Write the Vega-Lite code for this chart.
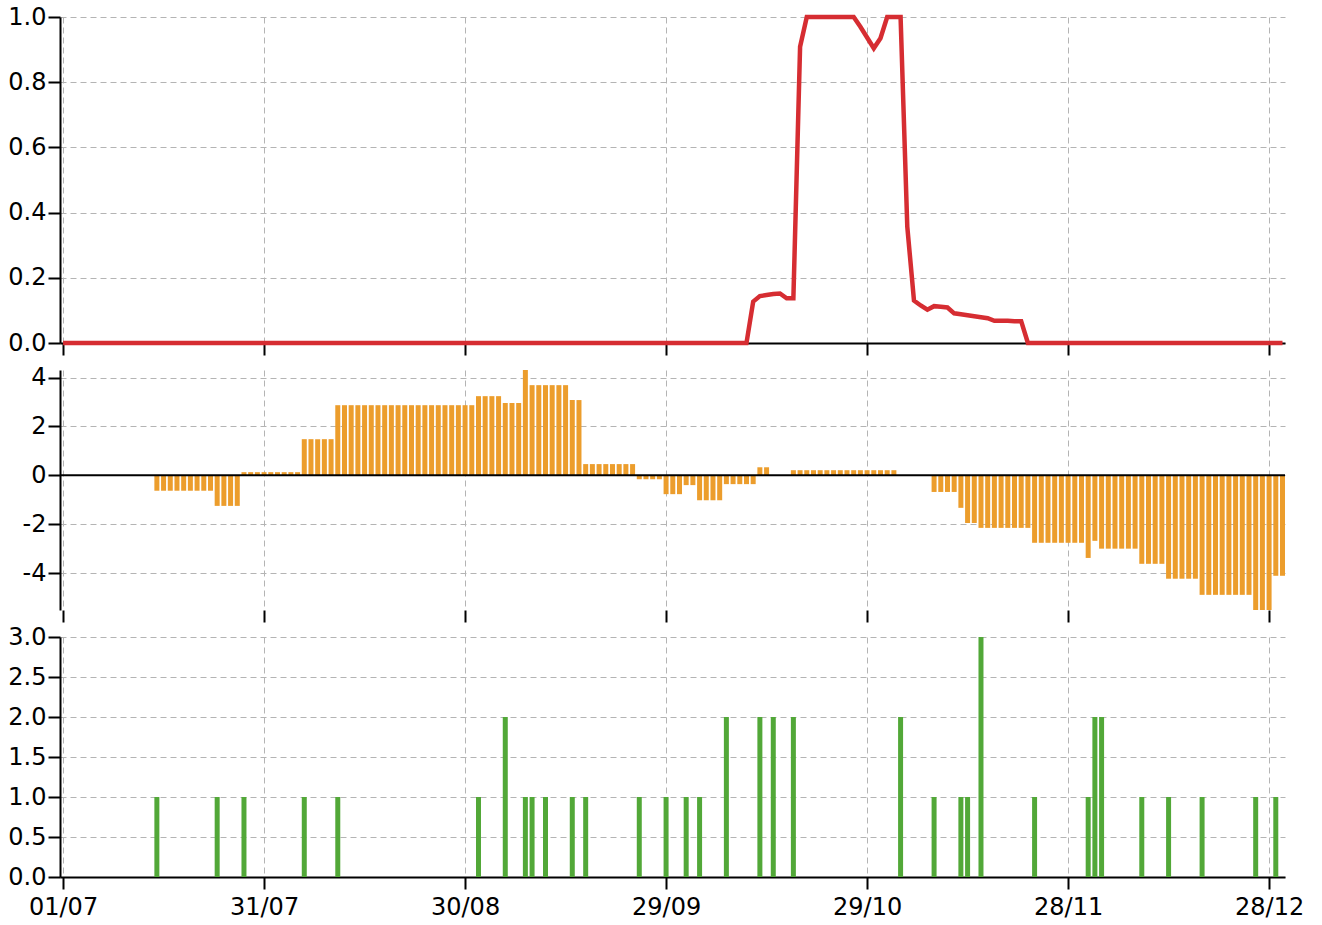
{
  "$schema": "https://vega.github.io/schema/vega-lite/v6.json",
  "padding": {"left": 7, "top": 5, "right": 5, "bottom": 5},
  "bounds": "flush",
  "spacing": 27,
  "datasets": {
    "risk": [
      {"d":"2023-07-01","v":0},{"d":"2023-07-02","v":0},{"d":"2023-07-03","v":0},{"d":"2023-07-04","v":0},{"d":"2023-07-05","v":0},{"d":"2023-07-06","v":0},{"d":"2023-07-07","v":0},{"d":"2023-07-08","v":0},{"d":"2023-07-09","v":0},{"d":"2023-07-10","v":0},
      {"d":"2023-07-11","v":0},{"d":"2023-07-12","v":0},{"d":"2023-07-13","v":0},{"d":"2023-07-14","v":0},{"d":"2023-07-15","v":0},{"d":"2023-07-16","v":0},{"d":"2023-07-17","v":0},{"d":"2023-07-18","v":0},{"d":"2023-07-19","v":0},{"d":"2023-07-20","v":0},
      {"d":"2023-07-21","v":0},{"d":"2023-07-22","v":0},{"d":"2023-07-23","v":0},{"d":"2023-07-24","v":0},{"d":"2023-07-25","v":0},{"d":"2023-07-26","v":0},{"d":"2023-07-27","v":0},{"d":"2023-07-28","v":0},{"d":"2023-07-29","v":0},{"d":"2023-07-30","v":0},{"d":"2023-07-31","v":0},
      {"d":"2023-08-01","v":0},{"d":"2023-08-02","v":0},{"d":"2023-08-03","v":0},{"d":"2023-08-04","v":0},{"d":"2023-08-05","v":0},{"d":"2023-08-06","v":0},{"d":"2023-08-07","v":0},{"d":"2023-08-08","v":0},{"d":"2023-08-09","v":0},{"d":"2023-08-10","v":0},
      {"d":"2023-08-11","v":0},{"d":"2023-08-12","v":0},{"d":"2023-08-13","v":0},{"d":"2023-08-14","v":0},{"d":"2023-08-15","v":0},{"d":"2023-08-16","v":0},{"d":"2023-08-17","v":0},{"d":"2023-08-18","v":0},{"d":"2023-08-19","v":0},{"d":"2023-08-20","v":0},
      {"d":"2023-08-21","v":0},{"d":"2023-08-22","v":0},{"d":"2023-08-23","v":0},{"d":"2023-08-24","v":0},{"d":"2023-08-25","v":0},{"d":"2023-08-26","v":0},{"d":"2023-08-27","v":0},{"d":"2023-08-28","v":0},{"d":"2023-08-29","v":0},{"d":"2023-08-30","v":0},{"d":"2023-08-31","v":0},
      {"d":"2023-09-01","v":0},{"d":"2023-09-02","v":0},{"d":"2023-09-03","v":0},{"d":"2023-09-04","v":0},{"d":"2023-09-05","v":0},{"d":"2023-09-06","v":0},{"d":"2023-09-07","v":0},{"d":"2023-09-08","v":0},{"d":"2023-09-09","v":0},{"d":"2023-09-10","v":0},
      {"d":"2023-09-11","v":0},{"d":"2023-09-12","v":0},{"d":"2023-09-13","v":0},{"d":"2023-09-14","v":0},{"d":"2023-09-15","v":0},{"d":"2023-09-16","v":0},{"d":"2023-09-17","v":0},{"d":"2023-09-18","v":0},{"d":"2023-09-19","v":0},{"d":"2023-09-20","v":0},
      {"d":"2023-09-21","v":0},{"d":"2023-09-22","v":0},{"d":"2023-09-23","v":0},{"d":"2023-09-24","v":0},{"d":"2023-09-25","v":0},{"d":"2023-09-26","v":0},{"d":"2023-09-27","v":0},{"d":"2023-09-28","v":0},{"d":"2023-09-29","v":0},{"d":"2023-09-30","v":0},
      {"d":"2023-10-01","v":0},{"d":"2023-10-02","v":0},{"d":"2023-10-03","v":0},{"d":"2023-10-04","v":0},{"d":"2023-10-05","v":0},{"d":"2023-10-06","v":0},{"d":"2023-10-07","v":0},{"d":"2023-10-08","v":0},{"d":"2023-10-09","v":0},{"d":"2023-10-10","v":0},
      {"d":"2023-10-11","v":0},{"d":"2023-10-12","v":0.127},{"d":"2023-10-13","v":0.144},{"d":"2023-10-14","v":0.147},{"d":"2023-10-15","v":0.15},{"d":"2023-10-16","v":0.152},{"d":"2023-10-17","v":0.137},{"d":"2023-10-18","v":0.137},{"d":"2023-10-19","v":0.909},{"d":"2023-10-20","v":1},
      {"d":"2023-10-21","v":1},{"d":"2023-10-22","v":1},{"d":"2023-10-23","v":1},{"d":"2023-10-24","v":1},{"d":"2023-10-25","v":1},{"d":"2023-10-26","v":1},{"d":"2023-10-27","v":1},{"d":"2023-10-28","v":0.97},{"d":"2023-10-29","v":0.937},{"d":"2023-10-30","v":0.904},{"d":"2023-10-31","v":0.935},
      {"d":"2023-11-01","v":1},{"d":"2023-11-02","v":1},{"d":"2023-11-03","v":1},{"d":"2023-11-04","v":0.357},{"d":"2023-11-05","v":0.13},{"d":"2023-11-06","v":0.115},{"d":"2023-11-07","v":0.102},{"d":"2023-11-08","v":0.113},{"d":"2023-11-09","v":0.111},{"d":"2023-11-10","v":0.109},
      {"d":"2023-11-11","v":0.091},{"d":"2023-11-12","v":0.088},{"d":"2023-11-13","v":0.085},{"d":"2023-11-14","v":0.082},{"d":"2023-11-15","v":0.079},{"d":"2023-11-16","v":0.076},{"d":"2023-11-17","v":0.068},{"d":"2023-11-18","v":0.068},{"d":"2023-11-19","v":0.068},{"d":"2023-11-20","v":0.067},
      {"d":"2023-11-21","v":0.067},{"d":"2023-11-22","v":0},{"d":"2023-11-23","v":0},{"d":"2023-11-24","v":0},{"d":"2023-11-25","v":0},{"d":"2023-11-26","v":0},{"d":"2023-11-27","v":0},{"d":"2023-11-28","v":0},{"d":"2023-11-29","v":0},{"d":"2023-11-30","v":0},
      {"d":"2023-12-01","v":0},{"d":"2023-12-02","v":0},{"d":"2023-12-03","v":0},{"d":"2023-12-04","v":0},{"d":"2023-12-05","v":0},{"d":"2023-12-06","v":0},{"d":"2023-12-07","v":0},{"d":"2023-12-08","v":0},{"d":"2023-12-09","v":0},{"d":"2023-12-10","v":0},
      {"d":"2023-12-11","v":0},{"d":"2023-12-12","v":0},{"d":"2023-12-13","v":0},{"d":"2023-12-14","v":0},{"d":"2023-12-15","v":0},{"d":"2023-12-16","v":0},{"d":"2023-12-17","v":0},{"d":"2023-12-18","v":0},{"d":"2023-12-19","v":0},{"d":"2023-12-20","v":0},
      {"d":"2023-12-21","v":0},{"d":"2023-12-22","v":0},{"d":"2023-12-23","v":0},{"d":"2023-12-24","v":0},{"d":"2023-12-25","v":0},{"d":"2023-12-26","v":0},{"d":"2023-12-27","v":0},{"d":"2023-12-28","v":0},{"d":"2023-12-29","v":0},{"d":"2023-12-30","v":0}
    ],
    "balance": [
      {"d":"2023-07-15","v":-0.63},{"d":"2023-07-16","v":-0.63},{"d":"2023-07-17","v":-0.63},{"d":"2023-07-18","v":-0.63},{"d":"2023-07-19","v":-0.63},{"d":"2023-07-20","v":-0.63},{"d":"2023-07-21","v":-0.63},{"d":"2023-07-22","v":-0.63},{"d":"2023-07-23","v":-0.63},
      {"d":"2023-07-24","v":-1.25},{"d":"2023-07-25","v":-1.25},{"d":"2023-07-26","v":-1.25},{"d":"2023-07-27","v":-1.25},
      {"d":"2023-07-28","v":0.13},{"d":"2023-07-29","v":0.13},{"d":"2023-07-30","v":0.13},{"d":"2023-07-31","v":0.13},{"d":"2023-08-01","v":0.13},{"d":"2023-08-02","v":0.13},{"d":"2023-08-03","v":0.13},{"d":"2023-08-04","v":0.13},{"d":"2023-08-05","v":0.13},
      {"d":"2023-08-06","v":1.48},{"d":"2023-08-07","v":1.48},{"d":"2023-08-08","v":1.48},{"d":"2023-08-09","v":1.48},{"d":"2023-08-10","v":1.48},
      {"d":"2023-08-11","v":2.87},{"d":"2023-08-12","v":2.87},{"d":"2023-08-13","v":2.87},{"d":"2023-08-14","v":2.87},{"d":"2023-08-15","v":2.87},{"d":"2023-08-16","v":2.87},{"d":"2023-08-17","v":2.87},{"d":"2023-08-18","v":2.87},{"d":"2023-08-19","v":2.87},{"d":"2023-08-20","v":2.87},{"d":"2023-08-21","v":2.87},
      {"d":"2023-08-22","v":2.87},{"d":"2023-08-23","v":2.87},{"d":"2023-08-24","v":2.87},{"d":"2023-08-25","v":2.87},{"d":"2023-08-26","v":2.87},{"d":"2023-08-27","v":2.87},{"d":"2023-08-28","v":2.87},{"d":"2023-08-29","v":2.87},{"d":"2023-08-30","v":2.87},{"d":"2023-08-31","v":2.87},
      {"d":"2023-09-01","v":3.24},{"d":"2023-09-02","v":3.24},{"d":"2023-09-03","v":3.24},{"d":"2023-09-04","v":3.24},
      {"d":"2023-09-05","v":2.96},{"d":"2023-09-06","v":2.96},{"d":"2023-09-07","v":2.96},
      {"d":"2023-09-08","v":4.31},
      {"d":"2023-09-09","v":3.69},{"d":"2023-09-10","v":3.69},{"d":"2023-09-11","v":3.69},{"d":"2023-09-12","v":3.69},{"d":"2023-09-13","v":3.69},{"d":"2023-09-14","v":3.69},
      {"d":"2023-09-15","v":3.08},{"d":"2023-09-16","v":3.08},
      {"d":"2023-09-17","v":0.46},{"d":"2023-09-18","v":0.46},{"d":"2023-09-19","v":0.46},{"d":"2023-09-20","v":0.46},{"d":"2023-09-21","v":0.46},{"d":"2023-09-22","v":0.46},{"d":"2023-09-23","v":0.46},{"d":"2023-09-24","v":0.46},
      {"d":"2023-09-25","v":-0.16},{"d":"2023-09-26","v":-0.16},{"d":"2023-09-27","v":-0.16},{"d":"2023-09-28","v":-0.16},
      {"d":"2023-09-29","v":-0.77},{"d":"2023-09-30","v":-0.77},{"d":"2023-10-01","v":-0.77},
      {"d":"2023-10-02","v":-0.4},{"d":"2023-10-03","v":-0.4},
      {"d":"2023-10-04","v":-1.02},{"d":"2023-10-05","v":-1.02},{"d":"2023-10-06","v":-1.02},{"d":"2023-10-07","v":-1.02},
      {"d":"2023-10-08","v":-0.36},{"d":"2023-10-09","v":-0.36},{"d":"2023-10-10","v":-0.36},{"d":"2023-10-11","v":-0.36},{"d":"2023-10-12","v":-0.36},
      {"d":"2023-10-13","v":0.33},{"d":"2023-10-14","v":0.33},
      {"d":"2023-10-18","v":0.21},{"d":"2023-10-19","v":0.21},{"d":"2023-10-20","v":0.21},{"d":"2023-10-21","v":0.21},{"d":"2023-10-22","v":0.21},{"d":"2023-10-23","v":0.21},{"d":"2023-10-24","v":0.21},{"d":"2023-10-25","v":0.21},
      {"d":"2023-10-26","v":0.21},{"d":"2023-10-27","v":0.21},{"d":"2023-10-28","v":0.21},{"d":"2023-10-29","v":0.21},{"d":"2023-10-30","v":0.21},{"d":"2023-10-31","v":0.21},{"d":"2023-11-01","v":0.21},{"d":"2023-11-02","v":0.21},
      {"d":"2023-11-08","v":-0.68},{"d":"2023-11-09","v":-0.68},{"d":"2023-11-10","v":-0.68},{"d":"2023-11-11","v":-0.68},
      {"d":"2023-11-12","v":-1.33},
      {"d":"2023-11-13","v":-1.95},{"d":"2023-11-14","v":-1.95},
      {"d":"2023-11-15","v":-2.15},{"d":"2023-11-16","v":-2.15},{"d":"2023-11-17","v":-2.15},{"d":"2023-11-18","v":-2.15},{"d":"2023-11-19","v":-2.15},{"d":"2023-11-20","v":-2.15},{"d":"2023-11-21","v":-2.15},{"d":"2023-11-22","v":-2.15},
      {"d":"2023-11-23","v":-2.76},{"d":"2023-11-24","v":-2.76},{"d":"2023-11-25","v":-2.76},{"d":"2023-11-26","v":-2.76},{"d":"2023-11-27","v":-2.76},{"d":"2023-11-28","v":-2.76},{"d":"2023-11-29","v":-2.76},{"d":"2023-11-30","v":-2.76},
      {"d":"2023-12-01","v":-3.38},
      {"d":"2023-12-02","v":-2.68},
      {"d":"2023-12-03","v":-3.0},{"d":"2023-12-04","v":-3.0},{"d":"2023-12-05","v":-3.0},{"d":"2023-12-06","v":-3.0},{"d":"2023-12-07","v":-3.0},{"d":"2023-12-08","v":-3.0},
      {"d":"2023-12-09","v":-3.62},{"d":"2023-12-10","v":-3.62},{"d":"2023-12-11","v":-3.62},{"d":"2023-12-12","v":-3.62},
      {"d":"2023-12-13","v":-4.23},{"d":"2023-12-14","v":-4.23},{"d":"2023-12-15","v":-4.23},{"d":"2023-12-16","v":-4.23},{"d":"2023-12-17","v":-4.23},
      {"d":"2023-12-18","v":-4.89},{"d":"2023-12-19","v":-4.89},{"d":"2023-12-20","v":-4.89},{"d":"2023-12-21","v":-4.89},{"d":"2023-12-22","v":-4.89},{"d":"2023-12-23","v":-4.89},{"d":"2023-12-24","v":-4.89},{"d":"2023-12-25","v":-4.89},
      {"d":"2023-12-26","v":-5.51},{"d":"2023-12-27","v":-5.51},{"d":"2023-12-28","v":-5.51},
      {"d":"2023-12-29","v":-4.11},{"d":"2023-12-30","v":-4.11}
    ],
    "events": [
      {"d":"2023-07-15","n":1},{"d":"2023-07-24","n":1},{"d":"2023-07-28","n":1},{"d":"2023-08-06","n":1},{"d":"2023-08-11","n":1},
      {"d":"2023-09-01","n":1},{"d":"2023-09-05","n":2},{"d":"2023-09-08","n":1},{"d":"2023-09-09","n":1},{"d":"2023-09-11","n":1},
      {"d":"2023-09-15","n":1},{"d":"2023-09-17","n":1},{"d":"2023-09-25","n":1},{"d":"2023-09-29","n":1},{"d":"2023-10-02","n":1},
      {"d":"2023-10-04","n":1},{"d":"2023-10-08","n":2},{"d":"2023-10-13","n":2},{"d":"2023-10-15","n":2},{"d":"2023-10-18","n":2},
      {"d":"2023-11-03","n":2},{"d":"2023-11-08","n":1},{"d":"2023-11-12","n":1},{"d":"2023-11-13","n":1},{"d":"2023-11-15","n":3},
      {"d":"2023-11-23","n":1},{"d":"2023-12-01","n":1},{"d":"2023-12-02","n":2},{"d":"2023-12-03","n":2},{"d":"2023-12-09","n":1},
      {"d":"2023-12-13","n":1},{"d":"2023-12-18","n":1},{"d":"2023-12-26","n":1},{"d":"2023-12-29","n":1}
    ],
    "zero": [{"z": 0}]
  },
  "vconcat": [
    {
      "width": 1225,
      "height": 326,
      "data": {"name": "risk"},
      "mark": {"type": "line", "color": "#d62d32", "strokeWidth": 4.5},
      "encoding": {
        "x": {
          "field": "d", "type": "temporal", "title": null,
          "scale": {"type": "utc", "padding": 0, "domain": [{"year": 2023, "month": 6, "date": 30, "hours": 13, "utc": true}, {"year": 2023, "month": 12, "date": 30, "hours": 9, "utc": true}]},
          "axis": {"labels": false, "domain": true, "grid": true,
            "values": [{"year": 2023, "month": 7, "date": 1, "utc": true}, {"year": 2023, "month": 7, "date": 31, "utc": true}, {"year": 2023, "month": 8, "date": 30, "utc": true}, {"year": 2023, "month": 9, "date": 29, "utc": true}, {"year": 2023, "month": 10, "date": 29, "utc": true}, {"year": 2023, "month": 11, "date": 28, "utc": true}, {"year": 2023, "month": 12, "date": 28, "utc": true}]}
        },
        "y": {
          "field": "v", "type": "quantitative", "title": null,
          "scale": {"domain": [0, 1], "nice": false, "zero": false},
          "axis": {"values": [0, 0.2, 0.4, 0.6, 0.8, 1], "format": ".1f"}
        }
      }
    },
    {
      "width": 1225,
      "height": 240,
      "layer": [
        {
          "data": {"name": "balance"},
          "mark": {"type": "bar", "color": "#ec9d2c", "width": 5},
          "encoding": {
            "x": {
              "field": "d", "type": "temporal", "title": null,
              "scale": {"type": "utc", "padding": 0, "domain": [{"year": 2023, "month": 6, "date": 30, "hours": 13, "utc": true}, {"year": 2023, "month": 12, "date": 30, "hours": 9, "utc": true}]},
              "axis": {"labels": false, "domain": false, "grid": true,
                "values": [{"year": 2023, "month": 7, "date": 1, "utc": true}, {"year": 2023, "month": 7, "date": 31, "utc": true}, {"year": 2023, "month": 8, "date": 30, "utc": true}, {"year": 2023, "month": 9, "date": 29, "utc": true}, {"year": 2023, "month": 10, "date": 29, "utc": true}, {"year": 2023, "month": 11, "date": 28, "utc": true}, {"year": 2023, "month": 12, "date": 28, "utc": true}]}
            },
            "y": {
              "field": "v", "type": "quantitative", "title": null,
              "scale": {"domain": [-5.51, 4.31], "nice": false, "zero": false, "padding": 0},
              "axis": {"values": [-4, -2, 0, 2, 4], "labelExpr": "'' + datum.value"}
            }
          }
        },
        {
          "data": {"name": "zero"},
          "mark": {"type": "rule", "color": "#000000", "strokeWidth": 2},
          "encoding": {"y": {"field": "z", "type": "quantitative"}}
        }
      ]
    },
    {
      "width": 1225,
      "height": 240,
      "data": {"name": "events"},
      "mark": {"type": "bar", "color": "#52a838", "width": 5},
      "encoding": {
        "x": {
          "field": "d", "type": "temporal", "title": null,
          "scale": {"type": "utc", "padding": 0, "domain": [{"year": 2023, "month": 6, "date": 30, "hours": 13, "utc": true}, {"year": 2023, "month": 12, "date": 30, "hours": 9, "utc": true}]},
          "axis": {"labels": true, "domain": true, "grid": true, "labelExpr": "utcFormat(datum.value, '%d/%m')", "labelPadding": 6,
            "values": [{"year": 2023, "month": 7, "date": 1, "utc": true}, {"year": 2023, "month": 7, "date": 31, "utc": true}, {"year": 2023, "month": 8, "date": 30, "utc": true}, {"year": 2023, "month": 9, "date": 29, "utc": true}, {"year": 2023, "month": 10, "date": 29, "utc": true}, {"year": 2023, "month": 11, "date": 28, "utc": true}, {"year": 2023, "month": 12, "date": 28, "utc": true}]}
        },
        "y": {
          "field": "n", "type": "quantitative", "title": null,
          "scale": {"domain": [0, 3], "nice": false, "padding": 0},
          "axis": {"values": [0, 0.5, 1, 1.5, 2, 2.5, 3], "format": ".1f"}
        }
      }
    }
  ],
  "config": {
    "view": {"stroke": null},
    "axis": {
      "labelFont": "DejaVu Sans",
      "labelFontSize": 24,
      "labelColor": "#000000",
      "tickColor": "#000000",
      "tickWidth": 2,
      "tickSize": 12,
      "domainColor": "#000000",
      "domainWidth": 2,
      "gridColor": "#b4b4b4",
      "gridDash": [6, 4],
      "gridWidth": 1,
      "labelPadding": 2,
      "labelFlush": false,
      "labelOverlap": false
    }
  }
}
